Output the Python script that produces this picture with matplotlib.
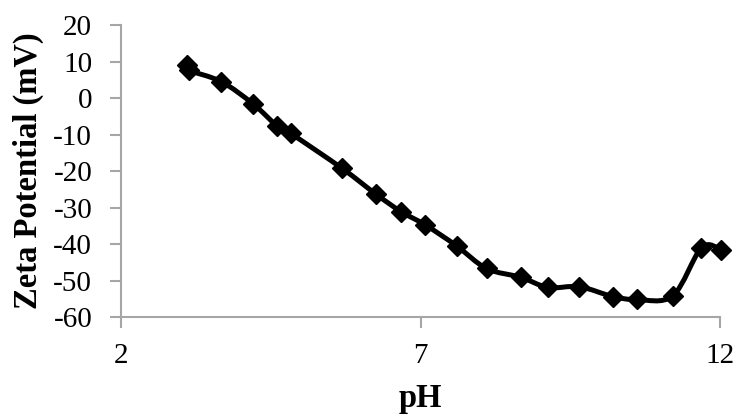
import numpy as np
import matplotlib
matplotlib.use("Agg")
import matplotlib.pyplot as plt
from matplotlib.path import Path
from matplotlib.patches import PathPatch

# zeta potential vs pH
ph = [3.10, 3.13, 3.67, 4.20, 4.60, 4.83, 5.69, 6.25, 6.67, 7.08, 7.60,
      8.10, 8.67, 9.13, 9.65, 10.21, 10.61, 11.21, 11.69, 12.01]
zeta = [9.0, 7.6, 4.5, -1.6, -7.6, -9.7, -19.3, -26.3, -31.1, -34.8, -40.5,
        -46.7, -49.1, -51.9, -51.7, -54.4, -55.2, -54.2, -41.0, -41.5]
xticks = [2, 7, 12]
yticks = list(range(-60, 21, 10))

plt.rcParams['font.family'] = ['Liberation Serif', 'DejaVu Serif']
plt.rcParams['axes.unicode_minus'] = False

fig = plt.figure(figsize=(7.4, 4.18), dpi=100)
ax = fig.add_axes([0.164, 0.2416, 0.809, 0.6984])

# smoothed line like the spreadsheet one (cubic bezier through each point)
pts = np.column_stack([ph, zeta])
verts = [pts[0]]
codes = [Path.MOVETO]
n = len(pts)
for i in range(n - 1):
    p0 = pts[i - 1] if i > 0 else pts[i]
    p1 = pts[i]
    p2 = pts[i + 1]
    p3 = pts[i + 2] if i + 2 < n else pts[i + 1]
    verts += [p1 + (p2 - p0) / 6.0, p2 - (p3 - p1) / 6.0, p2]
    codes += [Path.CURVE4] * 3
ax.add_patch(PathPatch(Path(verts, codes), facecolor="none", edgecolor="black",
                       linewidth=3.6, capstyle="round", joinstyle="round",
                       clip_on=False))
ax.plot(ph, zeta, linestyle="none", marker="D", markersize=10, color="black",
        clip_on=False)

ax.set_xlim(2, 12)
ax.set_ylim(-60, 20)
ax.set_xticks(xticks)
ax.set_yticks(yticks)

for s in ["top", "right"]:
    ax.spines[s].set_visible(False)
for s in ["left", "bottom"]:
    ax.spines[s].set_color("#a6a6a6")
    ax.spines[s].set_linewidth(1.5)
ax.tick_params(axis="both", direction="out", length=8, width=1.5, color="#a6a6a6",
               labelsize=21, labelcolor="black")
ax.tick_params(axis="x", pad=11)
ax.tick_params(axis="y", pad=13)

ax.set_xlabel("pH", fontsize=23.5, fontweight="bold", labelpad=10)
ax.set_ylabel("Zeta Potential (mV)", fontsize=23.5, fontweight="bold", labelpad=7)

fig.savefig("out.png", dpi=100)
